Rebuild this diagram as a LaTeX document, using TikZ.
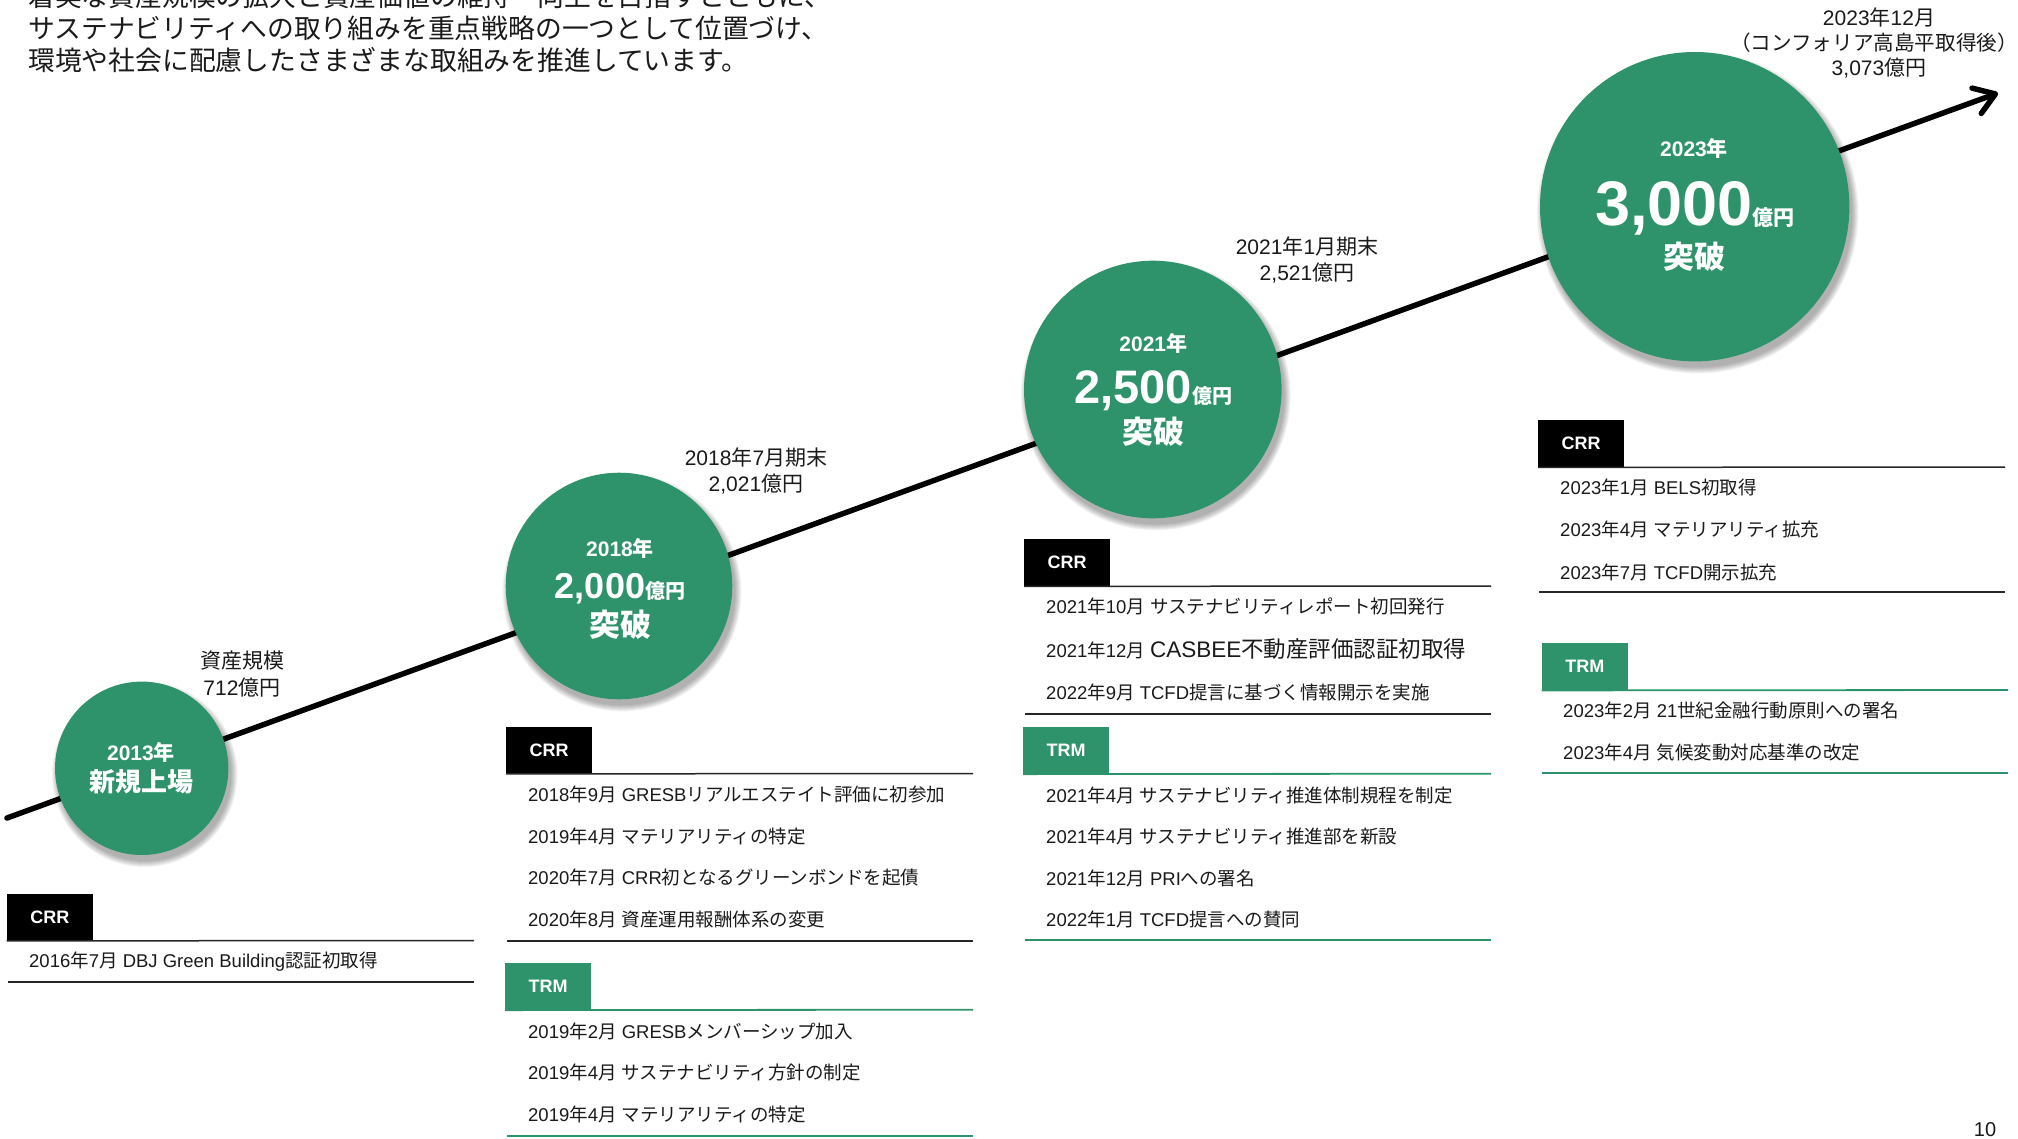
\documentclass[tikz,border=0pt]{standalone}
\usepackage{fontspec}
\setmainfont{Liberation Sans}
\newfontfamily\jpfont{Noto Sans CJK JP}
\XeTeXinterchartokenstate=1
\newXeTeXintercharclass\jpclass
\count255="3000
\loop \XeTeXcharclass\count255=\jpclass \ifnum\count255<"30FF \advance\count255 by 1 \repeat
\count255="4E00
\loop \XeTeXcharclass\count255=\jpclass \ifnum\count255<"9FFF \advance\count255 by 1 \repeat
\count255="FF00
\loop \XeTeXcharclass\count255=\jpclass \ifnum\count255<"FFEF \advance\count255 by 1 \repeat
\XeTeXinterchartoks 0 \jpclass = {\begingroup\jpfont}
\XeTeXinterchartoks 4095 \jpclass = {\begingroup\jpfont}
\XeTeXinterchartoks \jpclass 0 = {\endgroup}
\XeTeXinterchartoks \jpclass 4095 = {\endgroup}
\usetikzlibrary{arrows.meta}
\definecolor{brand}{RGB}{46,147,106}
\definecolor{ink}{RGB}{26,26,26}
\begin{document}
\begin{tikzpicture}[x=1pt,y=-1pt,
  every node/.style={inner sep=0pt,text=ink},
  para/.style={anchor=west,font=\fontsize{26.8}{30}\selectfont},
  lbl/.style={anchor=center,font=\fontsize{21}{24}\selectfont},
  bubble/.style={circle,fill=brand,inner sep=0pt},
  ctxt/.style={anchor=center,text=white},
  tagbox/.style={anchor=north west,minimum width=86pt,minimum height=47pt,text=white,font=\fontsize{18}{20}\selectfont\bfseries},
  crrbox/.style={tagbox,fill=black},
  trmbox/.style={tagbox,fill=brand},
  item/.style={anchor=west,font=\fontsize{18.5}{22}\selectfont},
  blackrule/.style={draw=black!85,line width=1.8pt},
  greenrule/.style={draw=brand,line width=1.8pt},
  mainline/.style={line width=5.5pt,draw=black,line cap=round,-{Straight Barb[length=20pt,width=27pt,round]}}
]
\useasboundingbox (0,0) rectangle (2018,1138);

% intro paragraph
\node[para] (p1) at (28,-4) {着実な資産規模の拡大と資産価値の維持・向上を目指すとともに、};
\node[para] (p2) at (28,28) {サステナビリティへの取り組みを重点戦略の一つとして位置づけ、};
\node[para] (p3) at (28,60) {環境や社会に配慮したさまざまな取組みを推進しています。};

% main arrow
\coordinate (start) at (7,818);
\coordinate (tip) at (1998,93);
\draw[mainline] (start) -- (tip);

% shadows
\foreach \cx/\cy/\r in {141.7/768.3/86.7, 619/586/113.3, 1152.8/389.5/128.8, 1694.7/206.7/154.7}{
  \foreach \k in {0,1,2,3,4,5,6}{
    \fill[black,opacity=0.05] (\cx+3,\cy+6) circle[radius=\r+\k];
  }
}

% circles
\node[bubble,minimum size=173.4pt] (c1) at (141.7,768.3) {};
\node[bubble,minimum size=226.6pt] (c2) at (619,586) {};
\node[bubble,minimum size=257.6pt] (c3) at (1152.8,389.5) {};
\node[bubble,minimum size=309.4pt] (c4) at (1694.7,206.7) {};

% circle texts
\node[ctxt,font=\fontsize{21}{21}\selectfont\bfseries] (c1y) at (141,752.7) {2013年};
\node[ctxt,font=\fontsize{26}{26}\selectfont\bfseries] (c1t) at (141,781.7) {新規上場};

\node[ctxt,font=\fontsize{21}{21}\selectfont\bfseries] (c2y) at (620,548.3) {2018年};
\node[ctxt,anchor=base,font=\bfseries] (c2v) at (620,598) {{\fontsize{36}{36}\selectfont 2,000}{\fontsize{20}{20}\selectfont 億円}};
\node[ctxt,font=\fontsize{31}{31}\selectfont\bfseries] (c2t) at (620.5,625) {突破};

\node[ctxt,font=\fontsize{21}{21}\selectfont\bfseries] (c3y) at (1153.3,343.3) {2021年};
\node[ctxt,anchor=base,font=\bfseries] (c3v) at (1153.3,403.5) {{\fontsize{47}{47}\selectfont 2,500}{\fontsize{20}{20}\selectfont 億円}};
\node[ctxt,font=\fontsize{31}{31}\selectfont\bfseries] (c3t) at (1153.3,431.7) {突破};

\node[ctxt,font=\fontsize{21}{21}\selectfont\bfseries] (c4y) at (1694,148.3) {2023年};
\node[ctxt,anchor=base,font=\bfseries] (c4v) at (1695,225.3) {{\fontsize{63}{63}\selectfont 3,000}{\fontsize{21}{21}\selectfont 億円}};
\node[ctxt,font=\fontsize{31}{31}\selectfont\bfseries] (c4t) at (1694,256.7) {突破};

% value labels
\node[lbl] (l1a) at (242,661) {資産規模};
\node[lbl] (l1b) at (242,688) {712億円};
\node[lbl] (l2a) at (756,458) {2018年7月期末};
\node[lbl] (l2b) at (756,484) {2,021億円};
\node[lbl] (l3a) at (1307,247) {2021年1月期末};
\node[lbl] (l3b) at (1307,273) {2,521億円};
\node[lbl] (l4a) at (1879,17) {2023年12月};
\node[lbl,font=\fontsize{20.6}{24}\selectfont] (l4b) at (1874,43) {（コンフォリア高島平取得後）};
\node[lbl] (l4c) at (1879,68) {3,073億円};

% section 1
\node[crrbox] (crr1) at (6.7,893.5) {CRR};
\draw[blackrule,line width=1.5pt] (crr1.south west) -- (474,940.5);
\node[item] (a1) at (29,962) {2016年7月 DBJ Green Building認証初取得};
\draw[blackrule] (8,982) -- (474,982);

% section 2
\node[crrbox] (crr2) at (506,726.5) {CRR};
\draw[blackrule,line width=1.5pt] (crr2.south west) -- (973,773.5);
\node[item] (b1) at (528,794.3) {2018年9月 GRESBリアルエステイト評価に初参加};
\node[item] (b2) at (528,836) {2019年4月 マテリアリティの特定};
\node[item] (b3) at (528,877.7) {2020年7月 CRR初となるグリーンボンドを起債};
\node[item] (b4) at (528,919.3) {2020年8月 資産運用報酬体系の変更};
\draw[blackrule] (507,940.7) -- (973,940.7);
\node[trmbox] (trm2) at (505,962.7) {TRM};
\draw[greenrule] (trm2.south west) -- (973,1009.7);
\node[item] (b5) at (528,1031.7) {2019年2月 GRESBメンバーシップ加入};
\node[item] (b6) at (528,1072.7) {2019年4月 サステナビリティ方針の制定};
\node[item] (b7) at (528,1114) {2019年4月 マテリアリティの特定};
\draw[greenrule] (507,1135.7) -- (973,1135.7);

% section 3
\node[crrbox] (crr3) at (1024,539) {CRR};
\draw[blackrule,line width=1.5pt] (crr3.south west) -- (1491,586);
\node[item] (d1) at (1046,606.7) {2021年10月 サステナビリティレポート初回発行};
\node[item] (d2) at (1046,649.3) {2021年12月 {\fontsize{22.5}{24}\selectfont CASBEE不動産評価認証初取得}};
\node[item] (d3) at (1046,692.7) {2022年9月 TCFD提言に基づく情報開示を実施};
\draw[blackrule] (1025,714) -- (1491,714);
\node[trmbox] (trm3) at (1023,726.7) {TRM};
\draw[greenrule] (trm3.south west) -- (1491,773.7);
\node[item] (d4) at (1046,795) {2021年4月 サステナビリティ推進体制規程を制定};
\node[item] (d5) at (1046,836.7) {2021年4月 サステナビリティ推進部を新設};
\node[item] (d6) at (1046,878.3) {2021年12月 PRIへの署名};
\node[item] (d7) at (1046,919.3) {2022年1月 TCFD提言への賛同};
\draw[greenrule] (1025,940) -- (1491,940);

% section 4
\node[crrbox] (crr4) at (1538,420) {CRR};
\draw[blackrule,line width=1.5pt] (crr4.south west) -- (2005,467);
\node[item] (e1) at (1560,487) {2023年1月 BELS初取得};
\node[item] (e2) at (1560,529) {2023年4月 マテリアリティ拡充};
\node[item] (e3) at (1560,572) {2023年7月 TCFD開示拡充};
\draw[blackrule] (1539,592) -- (2005,592);
\node[trmbox] (trm4) at (1541.7,643) {TRM};
\draw[greenrule] (trm4.south west) -- (2008,690);
\node[item] (e4) at (1563,710) {2023年2月 21世紀金融行動原則への署名};
\node[item] (e5) at (1563,752) {2023年4月 気候変動対応基準の改定};
\draw[greenrule] (1542,773) -- (2008,773);

% page number
\node[anchor=base,font=\fontsize{20}{20}\selectfont] (pg) at (1985,1136) {10};
\end{tikzpicture}
\end{document}
